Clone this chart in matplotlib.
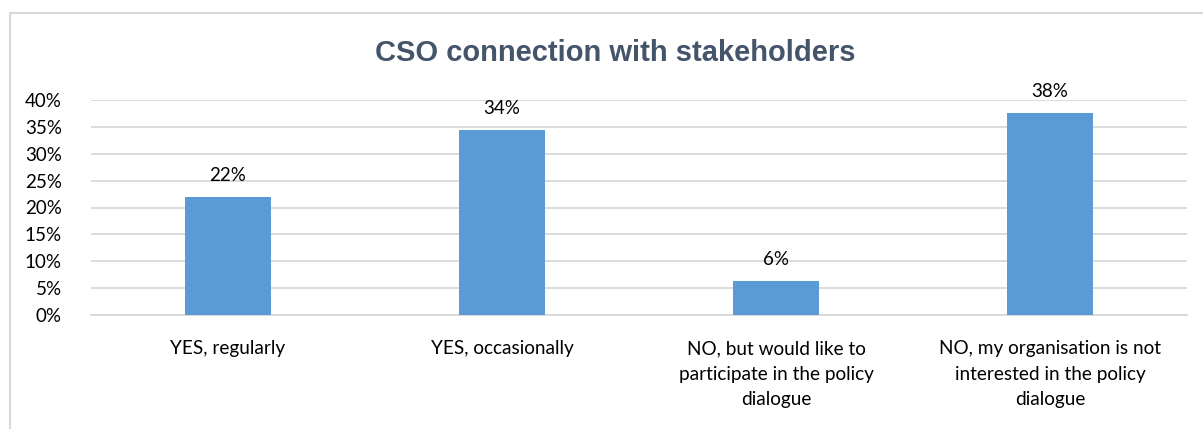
import matplotlib.pyplot as plt
from matplotlib.patches import Rectangle
from matplotlib.ticker import FuncFormatter

categories = [
    "YES, regularly",
    "YES, occasionally",
    "NO, but would like to\nparticipate in the policy\ndialogue",
    "NO, my organisation is not\ninterested in the policy\ndialogue",
]
values = [21.875, 34.375, 6.25, 37.5]  # percent of respondents
yticks = [0, 5, 10, 15, 20, 25, 30, 35, 40]

plt.rcParams['font.family'] = ['Lato', 'DejaVu Sans']

fig = plt.figure(figsize=(12.03, 4.29), dpi=100)
ax = fig.add_axes([91 / 1203, 1 - 315 / 429, (1187 - 91) / 1203, 215 / 429])

# light frame round the chart
fig.patches.append(Rectangle((10 / 1203, -0.05), 1.2, 1 - 13 / 429 + 0.05,
                             transform=fig.transFigure, fill=False,
                             edgecolor='#d9d9d9', linewidth=1.5))

x = range(len(categories))
bars = ax.bar(x, values, width=0.315, color='#5b9bd5', zorder=3)

for b, v in zip(bars, values):
    ax.text(b.get_x() + b.get_width() / 2, v + 2.5, f"{int(v + 0.5)}%",
            ha='center', va='bottom', fontsize=13.5, color='#000000')

ax.set_xlim(-0.5, len(categories) - 0.5)
ax.set_ylim(0, 40)
ax.set_yticks(yticks)
ax.yaxis.set_major_formatter(FuncFormatter(lambda v, _: f"{v:.0f}%"))
ax.set_xticks(list(x))
ax.set_xticklabels(categories, fontsize=13.7, linespacing=1.62)
ax.tick_params(axis='y', labelsize=13.5, length=0, pad=21)
ax.tick_params(axis='x', length=0, pad=18)
ax.grid(axis='y', color='#d9d9d9', linewidth=1.3, zorder=0)
for s in ['top', 'right', 'left']:
    ax.spines[s].set_visible(False)
ax.spines['bottom'].set_color('#d9d9d9')
ax.spines['bottom'].set_linewidth(1.3)

fig.text(615 / 1203, 1 - 53 / 429, "CSO connection with stakeholders",
         ha='center', va='center', fontsize=21, fontweight='bold',
         color='#44546a', family=['Liberation Sans', 'DejaVu Sans'])

fig.savefig('out.png', dpi=100)
